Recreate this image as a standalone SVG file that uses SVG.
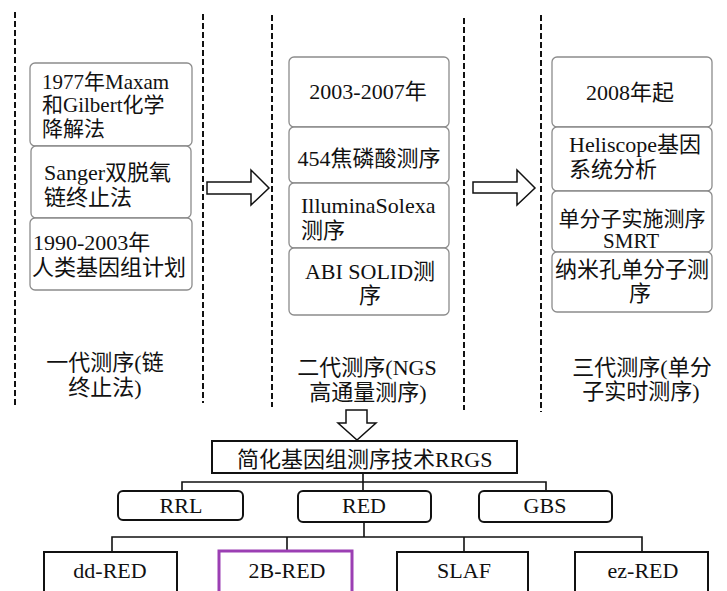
<svg xmlns="http://www.w3.org/2000/svg" width="727" height="591" viewBox="0 0 727 591">
<style>
text{font-family:"Liberation Serif","Noto Sans CJK SC",serif;font-size:22px;fill:#111}
.m{text-anchor:middle}
.s{font-size:21px}
.sep{stroke:#111;stroke-width:2;stroke-dasharray:6 3;fill:none}
.tb{fill:#fff;stroke:#8c8c8c;stroke-width:1.3}
.nb{fill:#fff;stroke:#111;stroke-width:2}
.cn{stroke:#111;stroke-width:1.6;fill:none}
.ar{fill:#fff;stroke:#111;stroke-width:1.5;stroke-linejoin:miter}
</style>
<rect width="727" height="591" fill="#fff"/>
<g id="separators">
<line class="sep" x1="15" y1="12" x2="15" y2="408"/>
<line class="sep" x1="203" y1="14" x2="203" y2="403"/>
<line class="sep" x1="272" y1="15" x2="272" y2="407"/>
<line class="sep" x1="464" y1="18" x2="464" y2="410"/>
<line class="sep" x1="541" y1="15" x2="541" y2="412"/>
</g>
<g id="gen1">
<rect class="tb" x="30" y="63" width="162" height="83" rx="5"/>
<rect class="tb" x="31" y="146" width="160" height="72" rx="5"/>
<rect class="tb" x="30" y="218" width="162" height="72" rx="5"/>
<text class="s" x="42" y="89">1977年Maxam</text>
<text class="s" x="42" y="112">和Gilbert化学</text>
<text class="s" x="42" y="136">降解法</text>
<text x="44" y="180">Sanger双脱氧</text>
<text x="44" y="205">链终止法</text>
<text x="33" y="250">1990-2003年</text>
<text x="32" y="275">人类基因组计划</text>
<text class="m" x="105" y="370">一代测序(链</text>
<text class="m" x="105" y="395">终止法)</text>
</g>
<g id="gen2">
<rect class="tb" x="289" y="57" width="160" height="70" rx="5"/>
<rect class="tb" x="289" y="127" width="160" height="56" rx="5"/>
<rect class="tb" x="289" y="183" width="160" height="65" rx="5"/>
<rect class="tb" x="289" y="248" width="160" height="67" rx="5"/>
<text class="m" x="368" y="99">2003-2007年</text>
<text class="m" x="369" y="166">454焦磷酸测序</text>
<text x="301" y="213">IlluminaSolexa</text>
<text x="301" y="238">测序</text>
<text class="m" x="370" y="279">ABI SOLID测</text>
<text class="m" x="370" y="303">序</text>
<text class="m" x="367" y="375">二代测序(NGS</text>
<text class="m" x="368" y="400">高通量测序)</text>
</g>
<g id="gen3">
<rect class="tb" x="552" y="57" width="160" height="70" rx="5"/>
<rect class="tb" x="552" y="127" width="160" height="64" rx="5"/>
<rect class="tb" x="552" y="191" width="160" height="61" rx="5"/>
<rect class="tb" x="552" y="252" width="160" height="60" rx="5"/>
<text class="m" x="630" y="100">2008年起</text>
<text x="569" y="152">Heliscope基因</text>
<text x="569" y="177">系统分析</text>
<text class="m s" x="632" y="226">单分子实施测序</text>
<text class="m s" x="631" y="248">SMRT</text>
<text class="m" x="632" y="277">纳米孔单分子测</text>
<text class="m" x="640" y="301">序</text>
<text class="m" x="642" y="375">三代测序(单分</text>
<text class="m" x="641" y="399">子实时测序)</text>
</g>
<g id="connectors">
<path class="ar" d="M207,182 H251 V170 L269,188 L251,205 V194 H207 Z"/>
<path class="ar" d="M473,182 H517 V170 L535,188 L517,205 V193 H473 Z"/>
<path class="ar" d="M346,410 V423 H338 L357,440 L376,423 H367 V410 Z"/>
<path class="cn" d="M363,473 V491 M182,491 V482 H546 V491"/>
<path class="cn" d="M364,522 V537 M112,552 V537 H642 V552 M287,537 V551 M464,537 V552"/>
</g>
<g id="rrgs">
<rect class="nb" x="212" y="441" width="305" height="32"/>
<text x="237" y="467">简化基因组测序技术RRGS</text>
</g>
<g id="rrl">
<rect class="nb" x="118" y="491" width="125" height="29" rx="5"/>
<text class="m" x="181" y="513">RRL</text>
</g>
<g id="red">
<rect class="nb" x="298" y="491" width="133" height="31" rx="5"/>
<text class="m" x="364" y="513">RED</text>
</g>
<g id="gbs">
<rect class="nb" x="479" y="491" width="133" height="31" rx="5"/>
<text class="m" x="545" y="513">GBS</text>
</g>
<g id="dd-red">
<rect class="nb" x="44" y="552" width="133" height="46"/>
<text class="m" x="110" y="578">dd-RED</text>
</g>
<g id="b2-red">
<rect x="219" y="551" width="133" height="47" fill="#fff" stroke="#9b3fb3" stroke-width="3"/>
<text class="m" x="287" y="578">2B-RED</text>
</g>
<g id="slaf">
<rect class="nb" x="397" y="552" width="131" height="46"/>
<text class="m" x="464" y="578">SLAF</text>
</g>
<g id="ez-red">
<rect class="nb" x="575" y="552" width="133" height="46"/>
<text class="m" x="643" y="578">ez-RED</text>
</g>
</svg>
